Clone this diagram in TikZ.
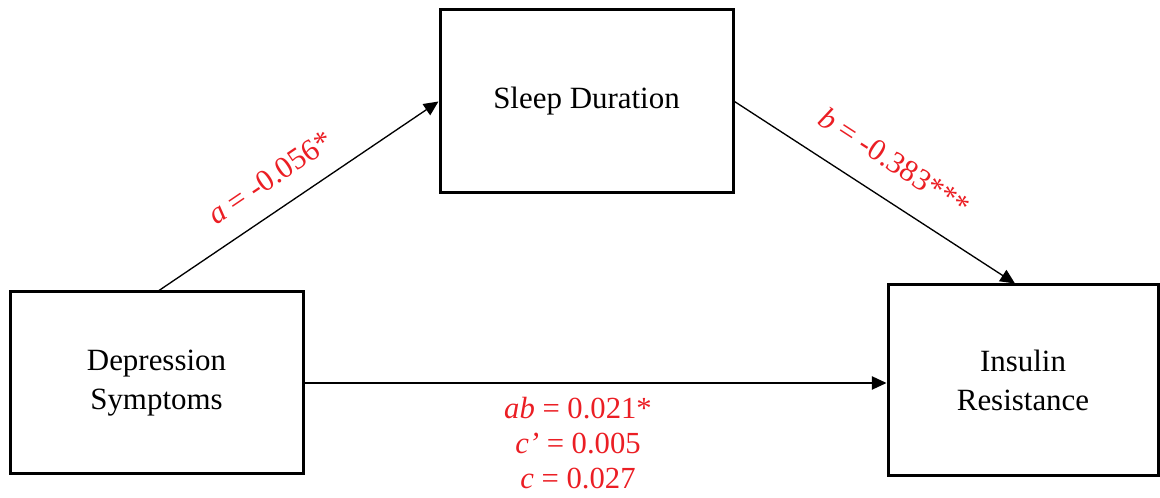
\documentclass[tikz,border=0pt]{standalone}
\usepackage{fontspec}
\setmainfont{Liberation Serif}
\usetikzlibrary{arrows.meta,calc}
\definecolor{labred}{RGB}{235,30,36}
\begin{document}
\begin{tikzpicture}[x=0.75pt,y=-0.75pt,
  box/.style={draw=black,line width=2.25pt,rectangle,align=center,inner sep=0pt,
    font=\fontsize{23.2}{29.2}\selectfont},
  conn/.style={line width=1pt,-{Triangle[length=11pt,width=10pt]}},
  lab/.style={text=labred,font=\fontsize{23}{26.25}\selectfont,inner sep=0pt}]
\useasboundingbox (0,0) rectangle (1160,498);
\node[box,minimum width=219.75pt,minimum height=136.5pt] (dep) at (156.5,383) {Depression\\Symptoms};
\node[box,minimum width=219.75pt,minimum height=137.25pt] (sleep) at (586.5,101.5) {Sleep Duration};
\node[box,minimum width=202.5pt,minimum height=143.25pt] (ins) at (1023,380.5) {Insulin\\Resistance};
\draw[conn] ($(dep.north)+(2.5,0)$) -- (sleep.west)
  node[lab,sloped,pos=0.46,above=15pt] (la) {\textit{a} = -0.056*};
\draw[conn] (sleep.east) -- ($(ins.north)+(-8,0)$)
  node[lab,sloped,pos=0.5,above=19pt] (lb) {\textit{b} = -0.383***};
\draw[conn] (dep.east) -- (dep.east -| ins.west);
\node[lab,align=center,anchor=north] (lc) at (578,397) {\textit{ab} = 0.021*\\\textit{c’} = 0.005\\\textit{c} = 0.027};
\end{tikzpicture}
\end{document}
